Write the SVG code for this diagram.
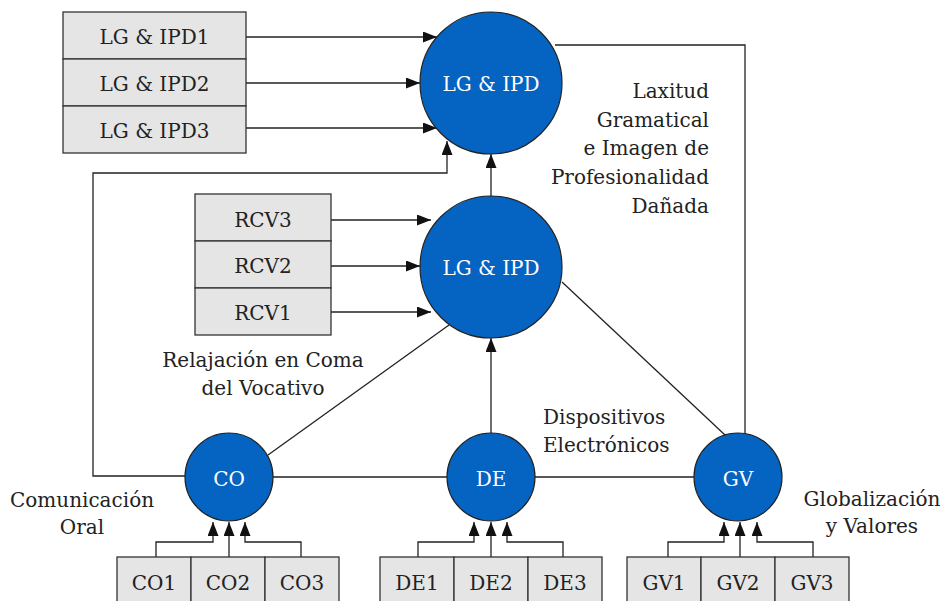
<svg xmlns="http://www.w3.org/2000/svg" width="946" height="601" viewBox="0 0 946 601">
<style>
text{font-family:"DejaVu Serif","Liberation Serif",serif;font-size:20px;fill:#222}
.box{fill:#e5e5e5;stroke:#333;stroke-width:1.3}
.node{fill:#0563c1;stroke:#222;stroke-width:1.2}
.nt{fill:#fff;text-anchor:middle}
.bt{text-anchor:middle}
.ln{fill:none;stroke:#222;stroke-width:1.3}
.ar{marker-end:url(#ah)}
</style>
<defs>
<marker id="ah" viewBox="0 0 14 11" refX="14" refY="5.5" markerWidth="14" markerHeight="11" markerUnits="userSpaceOnUse" orient="auto">
<path d="M0,0 L14,5.5 L0,11 z" fill="#111"/>
</marker>
</defs>
<rect width="946" height="601" fill="#fff"/>
<g id="connectors">
<path class="ln ar" d="M246,37 H437"/>
<path class="ln ar" d="M246,83 H420"/>
<path class="ln ar" d="M246,128 H437"/>
<path class="ln ar" d="M331,220 H431"/>
<path class="ln ar" d="M331,266 H420"/>
<path class="ln ar" d="M331,312 H431"/>
<path class="ln ar" d="M491,196 V154"/>
<path class="ln ar" d="M185,476 H93 V173 H447 V141"/>
<path class="ln" d="M555,45 H745 V433"/>
<path class="ln" d="M268,455 L449,325"/>
<path class="ln" d="M725,435 L562,282"/>
<path class="ln ar" d="M491,433 V338"/>
<path class="ln" d="M273,477 H447 M535,477 H694"/>
<path class="ln ar" d="M156,557 V542 H213 V522"/>
<path class="ln ar" d="M229,557 V522"/>
<path class="ln ar" d="M301,557 V542 H245 V522"/>
<path class="ln ar" d="M418,557 V542 H474 V522"/>
<path class="ln ar" d="M491,557 V522"/>
<path class="ln ar" d="M563,557 V542 H507 V522"/>
<path class="ln ar" d="M668,557 V542 H724 V522"/>
<path class="ln ar" d="M740,557 V522"/>
<path class="ln ar" d="M813,557 V542 H757 V522"/>
</g>
<g id="lgipd1box">
<rect class="box" x="63" y="12" width="183" height="47"/>
<text class="bt" x="154.5" y="44">LG &amp; IPD1</text>
<rect class="box" x="63" y="59" width="183" height="47"/>
<text class="bt" x="154.5" y="91">LG &amp; IPD2</text>
<rect class="box" x="63" y="106" width="183" height="47"/>
<text class="bt" x="154.5" y="138">LG &amp; IPD3</text>
</g>
<g id="rcvbox">
<rect class="box" x="195" y="194" width="136" height="47"/>
<text class="bt" x="263" y="227">RCV3</text>
<rect class="box" x="195" y="241" width="136" height="47"/>
<text class="bt" x="263" y="273">RCV2</text>
<rect class="box" x="195" y="288" width="136" height="47"/>
<text class="bt" x="263" y="320">RCV1</text>
</g>
<g id="lgipd-top">
<circle class="node" cx="491" cy="83" r="71"/>
<text class="nt" x="491" y="91">LG &amp; IPD</text>
</g>
<g id="lgipd-mid">
<circle class="node" cx="491" cy="267" r="71"/>
<text class="nt" x="491" y="275">LG &amp; IPD</text>
</g>
<g id="co">
<circle class="node" cx="229" cy="477" r="44"/>
<text class="nt" x="229" y="486">CO</text>
</g>
<g id="de">
<circle class="node" cx="491" cy="477" r="44"/>
<text class="nt" x="491" y="486">DE</text>
</g>
<g id="gv">
<circle class="node" cx="738" cy="477" r="44"/>
<text class="nt" x="738" y="486">GV</text>
</g>
<g id="co-items">
<rect class="box" x="117" y="557" width="74" height="50"/>
<text class="bt" x="154" y="590">CO1</text>
<rect class="box" x="191" y="557" width="74" height="50"/>
<text class="bt" x="228" y="590">CO2</text>
<rect class="box" x="265" y="557" width="74" height="50"/>
<text class="bt" x="302" y="590">CO3</text>
</g>
<g id="de-items">
<rect class="box" x="380" y="557" width="74" height="50"/>
<text class="bt" x="417" y="590">DE1</text>
<rect class="box" x="454" y="557" width="74" height="50"/>
<text class="bt" x="491" y="590">DE2</text>
<rect class="box" x="528" y="557" width="74" height="50"/>
<text class="bt" x="565" y="590">DE3</text>
</g>
<g id="gv-items">
<rect class="box" x="627" y="557" width="74" height="50"/>
<text class="bt" x="664" y="590">GV1</text>
<rect class="box" x="701" y="557" width="74" height="50"/>
<text class="bt" x="738" y="590">GV2</text>
<rect class="box" x="775" y="557" width="74" height="50"/>
<text class="bt" x="812" y="590">GV3</text>
</g>
<g id="labels">
<text text-anchor="end" x="709" y="98">Laxitud</text>
<text text-anchor="end" x="709" y="127">Gramatical</text>
<text text-anchor="end" x="709" y="155">e Imagen de</text>
<text text-anchor="end" x="709" y="184">Profesionalidad</text>
<text text-anchor="end" x="709" y="213">Dañada</text>
<text text-anchor="middle" x="263" y="367">Relajación en Coma</text>
<text text-anchor="middle" x="263" y="395">del Vocativo</text>
<text x="543" y="424">Dispositivos</text>
<text x="543" y="452">Electrónicos</text>
<text text-anchor="middle" x="82" y="507">Comunicación</text>
<text text-anchor="middle" x="82" y="534">Oral</text>
<text text-anchor="middle" x="872" y="506">Globalización</text>
<text text-anchor="middle" x="872" y="533">y Valores</text>
</g>
</svg>
